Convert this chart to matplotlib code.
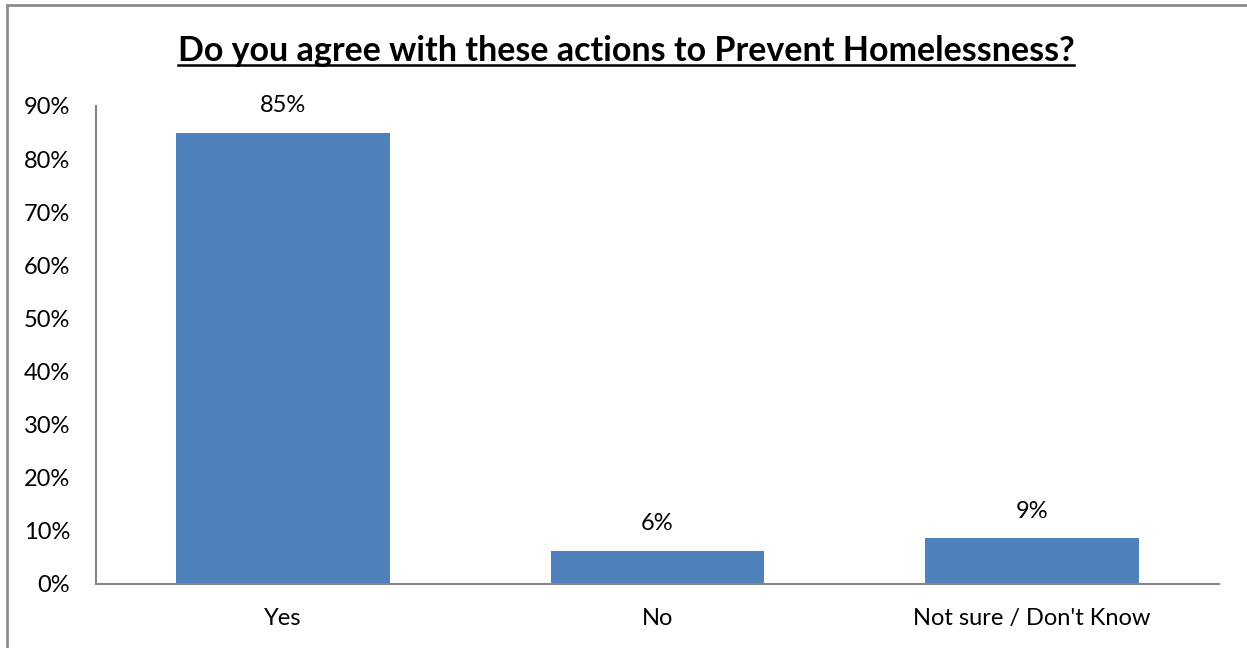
import matplotlib
matplotlib.use('Agg')
import matplotlib.pyplot as plt
from matplotlib.patches import Rectangle
from matplotlib.lines import Line2D
from matplotlib.ticker import FuncFormatter

# Survey responses (share of respondents)
categories = ['Yes', 'No', "Not sure / Don't Know"]
shares = [0.85, 0.063, 0.087]
bar_labels = ['85%', '6%', '9%']
y_ticks = [0.0, 0.1, 0.2, 0.3, 0.4, 0.5, 0.6, 0.7, 0.8, 0.9]

title = 'Do you agree with these actions to Prevent Homelessness?'
bar_color = '#4f81bd'
axis_color = '#868686'

plt.rcParams['font.family'] = ['Lato', 'DejaVu Sans']

W, H = 1247, 648
fig = plt.figure(figsize=(W / 100, H / 100), dpi=100)
fig.patch.set_facecolor('white')

# chart frame (runs off the right and bottom edges)
fig.patches.append(Rectangle((7 / W, -0.1), 1.2, 1 - 5 / H + 0.1,
                             transform=fig.transFigure, fill=False,
                             edgecolor='#8c8c8c', linewidth=2))

ax = fig.add_axes([96 / W, (H - 584) / H, (1219 - 96) / W, (584 - 106) / H])
x = range(len(categories))
ax.bar(x, shares, width=0.57, color=bar_color, zorder=2)
ax.set_xlim(-0.5, len(categories) - 0.5)
ax.set_ylim(0, 0.9)
ax.set_yticks(y_ticks)
ax.yaxis.set_major_formatter(FuncFormatter(lambda v, _: '{:.0f}%'.format(v * 100)))
ax.set_xticks(list(x))
ax.set_xticklabels(categories)
ax.tick_params(axis='both', length=0, labelsize=17, colors='black')
ax.tick_params(axis='y', pad=18.5)
ax.tick_params(axis='x', pad=17)

for side in ('top', 'right'):
    ax.spines[side].set_visible(False)
for side in ('left', 'bottom'):
    ax.spines[side].set_color(axis_color)
    ax.spines[side].set_linewidth(1.5)

for xi, val, lab in zip(x, shares, bar_labels):
    ax.annotate(lab, (xi, val), xytext=(0, 14.5), textcoords='offset points',
                ha='center', va='baseline', fontsize=17)

t = fig.text(0.502, 1 - 61 / H, title, ha='center', va='baseline',
             fontsize=24.5, fontweight='bold')

# underline the title
fig.canvas.draw()
bb = t.get_window_extent(fig.canvas.get_renderer())
uy = (H - 64.5) / H
fig.add_artist(Line2D([bb.x0 / W, bb.x1 / W], [uy, uy], transform=fig.transFigure,
                      color='black', linewidth=1.8))

fig.savefig('out.png', dpi=100, facecolor='white')
